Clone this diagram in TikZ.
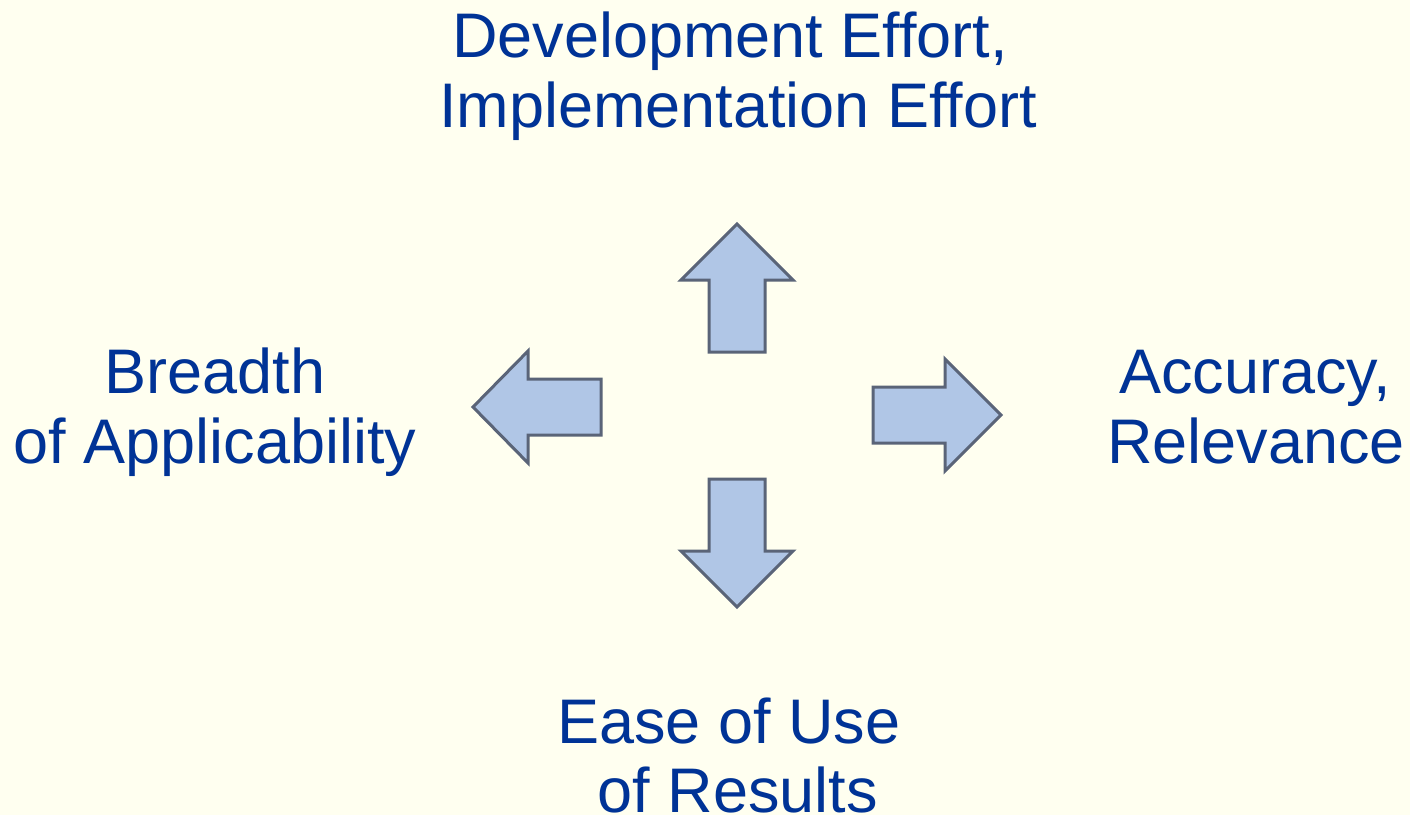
\documentclass[tikz,border=0pt]{standalone}
\usepackage{fontspec}
\setmainfont{Liberation Sans}
\definecolor{bg}{RGB}{255,255,240}
\definecolor{txt}{RGB}{0,51,150}
\definecolor{afill}{RGB}{176,198,230}
\definecolor{aline}{RGB}{90,100,120}
\begin{document}
\begin{tikzpicture}[x=1pt,y=-1pt,
  lbl/.style={anchor=base,inner sep=0pt,text=txt,font=\fontsize{63}{76}\selectfont},
  bigarrow/.style={fill=afill,draw=aline,line width=3pt,line join=miter}]
\fill[bg] (0,0) rectangle (1410,815);
\useasboundingbox (0,0) rectangle (1410,815);
% labels
\node[lbl] (t1) at (730,57) {Development Effort,};
\node[lbl] (t2) at (738,127) {Implementation Effort};
\node[lbl] (l1) at (215,393) {Breadth};
\node[lbl] (l2) at (215,463) {of Applicability};
\node[lbl] (r1) at (1255,393) {Accuracy,};
\node[lbl] (r2) at (1256,463) {Relevance};
\node[lbl] (b1) at (729,743) {Ease of Use};
\node[lbl] (b2) at (738,812) {of Results};
% arrows
\draw[bigarrow] (737,224) -- (793,280) -- (765,280) -- (765,352) -- (709,352) -- (709,280) -- (681,280) -- cycle;
\draw[bigarrow] (737,607) -- (793,551) -- (765,551) -- (765,479) -- (709,479) -- (709,551) -- (681,551) -- cycle;
\draw[bigarrow] (473,407) -- (528,351) -- (528,379) -- (601,379) -- (601,435) -- (528,435) -- (528,463) -- cycle;
\draw[bigarrow] (1001,415) -- (945,359) -- (945,387) -- (873,387) -- (873,443) -- (945,443) -- (945,471) -- cycle;
\end{tikzpicture}
\end{document}
